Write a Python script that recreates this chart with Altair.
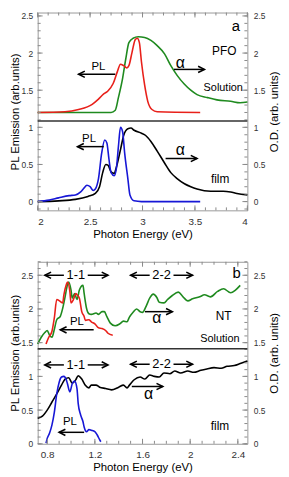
import altair as alt
import pandas as pd

FONT = "Liberation Sans"

# ---------------- Panel a (PFO) ----------------
a_sol_pl_x = [2.0, 2.26, 2.39, 2.52, 2.58, 2.63, 2.67, 2.72, 2.76, 2.79, 2.82, 2.85, 2.87, 2.90, 2.93, 2.95, 2.97, 2.99, 3.02, 3.05, 3.09, 3.14, 3.55]
a_sol_pl_y = [1.20, 1.21, 1.24, 1.31, 1.38, 1.45, 1.49, 1.59, 1.75, 1.85, 1.83, 1.80, 1.83, 2.01, 2.18, 2.20, 2.14, 1.88, 1.57, 1.35, 1.24, 1.21, 1.20]
a_sol_abs_x = [2.0, 2.70, 2.74, 2.77, 2.81, 2.84, 2.87, 2.91, 2.96, 3.02, 3.08, 3.14, 3.21, 3.27, 3.33, 3.40, 3.46, 3.52, 3.62, 3.71, 3.84, 3.93, 4.0]
a_sol_abs_y = [1.20, 1.20, 1.23, 1.40, 1.66, 1.92, 2.14, 2.20, 2.22, 2.21, 2.17, 2.10, 1.99, 1.83, 1.70, 1.58, 1.50, 1.44, 1.40, 1.37, 1.35, 1.33, 1.34]
a_film_pl_x = [2.0, 2.11, 2.20, 2.30, 2.36, 2.41, 2.44, 2.47, 2.50, 2.53, 2.55, 2.58, 2.61, 2.64, 2.66, 2.68, 2.70, 2.73, 2.75, 2.77, 2.79, 2.81, 2.83, 2.86, 2.88, 2.92, 2.99, 3.55]
a_film_pl_y = [0.0, 0.02, 0.05, 0.08, 0.09, 0.13, 0.18, 0.22, 0.20, 0.15, 0.17, 0.31, 0.65, 0.83, 0.79, 0.57, 0.39, 0.35, 0.44, 0.74, 1.0, 0.94, 0.65, 0.31, 0.09, 0.01, 0.0, 0.0]
a_film_abs_x = [2.0, 2.20, 2.36, 2.48, 2.55, 2.59, 2.62, 2.65, 2.67, 2.70, 2.73, 2.75, 2.79, 2.82, 2.86, 2.89, 2.92, 2.99, 3.03, 3.08, 3.14, 3.21, 3.27, 3.33, 3.40, 3.46, 3.52, 3.65, 3.77, 3.84, 3.90, 4.0]
a_film_abs_y = [0.0, 0.01, 0.03, 0.07, 0.11, 0.20, 0.39, 0.50, 0.49, 0.40, 0.38, 0.46, 0.70, 0.89, 0.98, 0.99, 0.96, 0.92, 0.89, 0.81, 0.68, 0.52, 0.39, 0.31, 0.24, 0.20, 0.17, 0.14, 0.14, 0.13, 0.11, 0.09]

a_text = ["a", "PFO", "Solution", "PL", "α", "PL", "α", "film"]
a_text_x = [3.89, 3.78, 3.77, 2.58, 3.36, 2.49, 3.36, 3.74]
a_text_y = [2.36, 2.03, 1.53, 1.81, 1.87, 0.84, 0.70, 0.30]
a_text_size = [15, 12, 11, 11.5, 16, 11.5, 16, 12]

a_arrow_tail = [2.74, 3.30, 2.63, 3.22]
a_arrow_tip = [2.39, 3.59, 2.38, 3.52]
a_arrow_y = [1.715, 1.78, 0.74, 0.58]

a_divider = [1.086]
a_ydom = [-0.118, 2.546]
a_xdom = [2.0, 4.0]
a_ymaj = [0, 0.5, 1, 1.5, 2, 2.5]
a_ymin = [round(-0.1 + 0.1 * i, 2) for i in range(27)]
a_xmaj = [2, 2.5, 3, 3.5, 4]
a_xmin = [round(2.0 + 0.1 * i, 2) for i in range(21)]

# ---------------- Panel b (NT) ----------------
b_sol_abs_x = [0.72, 0.75, 0.78, 0.80, 0.82, 0.84, 0.86, 0.88, 0.91, 0.93, 0.95, 0.97, 0.98, 1.00, 1.01, 1.03, 1.05, 1.07, 1.10, 1.11, 1.13, 1.15, 1.17, 1.21, 1.23, 1.26, 1.28, 1.30, 1.33, 1.37, 1.41, 1.44, 1.47, 1.49, 1.52, 1.55, 1.58, 1.60, 1.63, 1.66, 1.69, 1.72, 1.74, 1.78, 1.81, 1.85, 1.90, 1.94, 1.98, 2.02, 2.08, 2.12, 2.17, 2.23, 2.28, 2.34, 2.38, 2.42]
b_sol_abs_y = [1.48, 1.58, 1.65, 1.68, 1.61, 1.58, 1.70, 1.84, 1.89, 2.01, 2.18, 2.36, 2.40, 2.28, 2.16, 2.23, 2.14, 2.28, 2.35, 2.23, 2.01, 1.93, 1.92, 1.94, 1.92, 1.96, 1.96, 1.89, 1.79, 1.75, 1.78, 1.82, 1.81, 1.88, 1.95, 2.00, 1.96, 1.95, 2.04, 2.16, 2.22, 2.17, 2.10, 2.09, 2.14, 2.20, 2.25, 2.18, 2.12, 2.15, 2.18, 2.21, 2.18, 2.26, 2.30, 2.24, 2.28, 2.35]
b_sol_pl_x = [0.79, 0.81, 0.84, 0.86, 0.88, 0.91, 0.93, 0.94, 0.96, 0.97, 0.99, 1.00, 1.02, 1.04, 1.05, 1.07, 1.09, 1.11, 1.12, 1.15, 1.17, 1.20, 1.23, 1.26, 1.29, 1.31, 1.35]
b_sol_pl_y = [1.48, 1.57, 1.67, 1.87, 2.14, 2.11, 2.09, 2.21, 2.36, 2.40, 2.26, 2.09, 2.14, 2.23, 2.21, 2.16, 1.96, 1.89, 1.83, 1.84, 1.81, 1.78, 1.72, 1.71, 1.68, 1.64, 1.61]
b_film_pl_x = [0.79, 0.80, 0.82, 0.84, 0.86, 0.88, 0.90, 0.92, 0.94, 0.96, 0.97, 0.99, 1.01, 1.03, 1.05, 1.06, 1.08, 1.10, 1.11, 1.13, 1.15, 1.17, 1.20, 1.22, 1.24, 1.25]
b_film_pl_y = [0.01, 0.08, 0.16, 0.28, 0.47, 0.74, 0.91, 0.99, 1.0, 0.95, 0.89, 0.77, 0.89, 0.93, 0.82, 0.60, 0.43, 0.33, 0.25, 0.18, 0.21, 0.20, 0.18, 0.13, 0.06, 0.03]
b_film_abs_x = [0.72, 0.76, 0.80, 0.84, 0.88, 0.92, 0.95, 0.98, 1.01, 1.04, 1.06, 1.09, 1.12, 1.15, 1.17, 1.21, 1.24, 1.29, 1.34, 1.40, 1.44, 1.47, 1.49, 1.53, 1.58, 1.62, 1.66, 1.70, 1.74, 1.78, 1.83, 1.87, 1.92, 1.98, 2.03, 2.09, 2.14, 2.20, 2.26, 2.31, 2.37, 2.42, 2.48]
b_film_abs_y = [0.38, 0.41, 0.50, 0.62, 0.74, 0.87, 0.96, 0.98, 0.90, 0.95, 1.01, 0.96, 0.87, 0.83, 0.87, 0.87, 0.84, 0.82, 0.80, 0.84, 0.87, 0.83, 0.87, 0.95, 0.99, 0.96, 1.02, 1.00, 0.99, 1.05, 1.04, 1.08, 1.05, 1.08, 1.06, 1.09, 1.11, 1.13, 1.12, 1.15, 1.16, 1.19, 1.23]

b_text = ["b", "NT", "Solution", "1-1", "2-2", "α", "PL", "1-1", "2-2", "α", "PL", "film"]
b_text_x = [2.39, 2.28, 2.25, 1.04, 1.76, 1.72, 1.05, 1.04, 1.76, 1.65, 0.99, 2.25]
b_text_y = [2.53, 1.90, 1.56, 2.50, 2.50, 1.86, 1.81, 1.17, 1.18, 0.74, 0.33, 0.26]
b_text_size = [15, 12, 11, 13, 13, 16, 11.5, 13, 13, 16, 11.5, 12]

b_arrow_tail = [0.94, 1.14, 1.66, 1.86, 1.62, 1.19, 0.94, 1.14, 1.66, 1.86, 1.51, 1.11]
b_arrow_tip = [0.78, 1.31, 1.50, 2.02, 1.85, 0.91, 0.78, 1.31, 1.50, 2.02, 1.77, 0.90]
b_arrow_y = [2.50, 2.50, 2.50, 2.50, 1.96, 1.69, 1.17, 1.17, 1.18, 1.18, 0.85, 0.17]

b_divider = [1.41]
b_ydom = [0.0, 2.70]
b_xdom = [0.72, 2.48]
b_ymaj = [0, 0.5, 1, 1.5, 2, 2.5]
b_ymin = [round(0.1 * i, 2) for i in range(28)]
b_xmaj = [0.8, 1.2, 1.6, 2.0, 2.4]
b_xmin = [round(0.8 + 0.1 * i, 2) for i in range(17)]

SERIES = ["sol_abs", "sol_pl", "film_abs", "film_pl"]
COLORS = ["#1f8a1f", "#e8201a", "#000000", "#1717d6"]
TICK = "#8a8a8a"
W = 212

RIGHT_HEAD = "M-2,-1L0,0L-2,1"
LEFT_HEAD = "M2,-1L0,0L2,1"


def panel(series_xy, texts, arrows, divider, xdom, ydom, xmaj, xmin, ymaj, ymin, H):
    xs = alt.Scale(domain=xdom, nice=False, zero=False)
    ys = alt.Scale(domain=ydom, nice=False, zero=False)
    xax = alt.Axis(title="Photon Energy (eV)", values=xmaj, format="~g", ticks=False,
                   tickSize=0, domain=False, grid=False, labelPadding=6, titlePadding=2,
                   labelFontSize=10, titleFontSize=11.5, minExtent=0)
    yax = alt.Axis(title="PL Emission (arb.units)", values=ymaj, format="~g", ticks=False,
                   tickSize=0, domain=False, grid=False, labelPadding=5, titlePadding=1,
                   labelFontSize=8.5, titleFontSize=11.5, minExtent=0)

    def X(f):
        return alt.X(f, scale=xs, axis=xax)

    def Y(f):
        return alt.Y(f, scale=ys, axis=yax)

    rows = []
    for name, (xx, yy) in zip(SERIES, series_xy):
        for a, b in zip(xx, yy):
            rows.append({"x": a, "y": b, "s": name})
    lines = alt.Chart(pd.DataFrame(rows)).mark_line(strokeWidth=1.6, interpolate="monotone").encode(
        x=X("x:Q"), y=Y("y:Q"),
        color=alt.Color("s:N", scale=alt.Scale(domain=SERIES, range=COLORS), legend=None),
        detail="s:N",
    )

    div = alt.Chart(pd.DataFrame({"y": divider})).mark_rule(color="#333333", strokeWidth=1.5).encode(
        y=Y("y:Q"), x=alt.value(0), x2=alt.value(W))

    tdf = pd.DataFrame({"x": texts[1], "y": texts[2], "t": texts[0], "fs": texts[3]})
    txt = alt.Chart(tdf).mark_text(font=FONT, color="black", align="center", baseline="middle").encode(
        x=X("x:Q"), y=Y("y:Q"),
        text="t:N",
        size=alt.Size("fs:Q", scale=None, legend=None),
    )

    adf = pd.DataFrame({"x": arrows[0], "x2": arrows[1], "y": arrows[2]})
    adf["d"] = ["R" if b > a else "L" for a, b in zip(arrows[0], arrows[1])]
    shafts = alt.Chart(adf).mark_rule(color="black", strokeWidth=1.5).encode(
        x=X("x:Q"), x2="x2:Q", y=Y("y:Q"))
    heads = alt.Chart(adf).mark_point(filled=False, color="black", strokeWidth=1.6, size=40, opacity=1).encode(
        x=X("x2:Q"), y=Y("y:Q"),
        shape=alt.Shape("d:N", scale=alt.Scale(domain=["L", "R"], range=[LEFT_HEAD, RIGHT_HEAD]), legend=None),
    )

    def yt(vals, x0, x1):
        return alt.Chart(pd.DataFrame({"y": vals})).mark_rule(color=TICK, strokeWidth=1).encode(
            y=Y("y:Q"), x=alt.value(x0), x2=alt.value(x1))

    def xt(vals, y0, y1):
        return alt.Chart(pd.DataFrame({"x": vals})).mark_rule(color=TICK, strokeWidth=1).encode(
            x=X("x:Q"), y=alt.value(y0), y2=alt.value(y1))

    ticks = [
        yt(ymaj, 0, 5), yt(ymin, 0, 3), yt(ymaj, W, W - 5), yt(ymin, W, W - 3),
        xt(xmaj, H, H - 5), xt(xmin, H, H - 3), xt(xmaj, 0, 5), xt(xmin, 0, 3),
    ]

    inner = alt.layer(lines, *ticks, div, shafts, heads, txt)

    right = alt.Chart(pd.DataFrame({"v": [ydom[0]]})).mark_point(opacity=0).encode(
        y=alt.Y("v:Q", scale=alt.Scale(domain=ydom, nice=False, zero=False),
                axis=alt.Axis(orient="right", title="O.D. (arb. units)", values=ymaj, format="~g",
                              ticks=False, tickSize=0, domain=False, grid=False, labelPadding=6,
                              titlePadding=4, labelFontSize=8.5, titleFontSize=11.5,
                              titleAngle=270, titleBaseline="top", titleAlign="center",
                              minExtent=0)))

    return alt.layer(inner, right).resolve_scale(y="independent").properties(width=W, height=H)


pa = panel(
    [(a_sol_abs_x, a_sol_abs_y), (a_sol_pl_x, a_sol_pl_y), (a_film_abs_x, a_film_abs_y), (a_film_pl_x, a_film_pl_y)],
    (a_text, a_text_x, a_text_y, a_text_size),
    (a_arrow_tail, a_arrow_tip, a_arrow_y),
    a_divider, a_xdom, a_ydom, a_xmaj, a_xmin, a_ymaj, a_ymin, 200,
)
pb = panel(
    [(b_sol_abs_x, b_sol_abs_y), (b_sol_pl_x, b_sol_pl_y), (b_film_abs_x, b_film_abs_y), (b_film_pl_x, b_film_pl_y)],
    (b_text, b_text_x, b_text_y, b_text_size),
    (b_arrow_tail, b_arrow_tip, b_arrow_y),
    b_divider, b_xdom, b_ydom, b_xmaj, b_xmin, b_ymaj, b_ymin, 184,
)

chart = alt.vconcat(pa, pb, spacing=21).properties(
    padding={"left": 0, "top": 0, "right": 0, "bottom": 0}
).configure_view(stroke="#9a9a9a", strokeWidth=1).configure_axis(
    labelFont=FONT, titleFont=FONT, titleFontWeight="normal", labelColor="#333333", titleColor="#000000"
)

chart.save("out.html", embed_options={"renderer": "svg", "actions": False})
